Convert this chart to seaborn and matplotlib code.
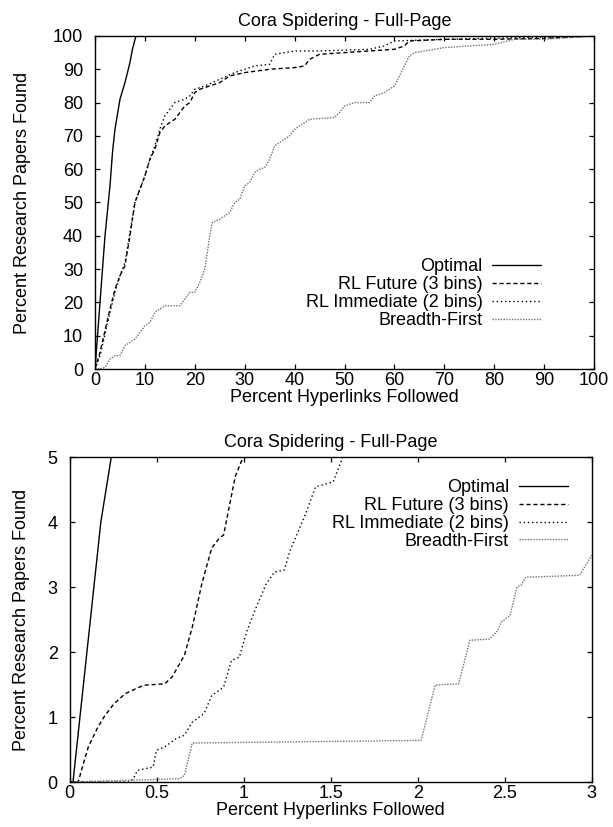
import seaborn as sns
import matplotlib.pyplot as plt
import pandas as pd

# Full range (percent hyperlinks followed vs percent papers found)
opt_x = [0, 1, 2, 3, 3.5, 4, 5, 6, 7, 7.5, 8.2, 100]
opt_y = [0, 20, 40, 55, 65, 72, 81, 86, 92, 96, 100, 100]

fut_x = [0, 1, 3, 4, 5, 6, 7, 8, 9, 10, 11, 12, 13, 14, 16, 17, 18, 19, 20, 21, 23, 25, 27, 30, 35,
         40, 42, 43, 45, 50, 55, 60, 62, 63, 70, 80, 90, 100]
fut_y = [0, 5, 18, 24, 28, 31, 40, 50, 54, 58, 63, 66, 71, 73, 75, 77, 79, 80, 83, 84, 85, 86, 88, 89, 90,
         90.5, 91, 93, 94.5, 95, 95.5, 96, 97, 98.5, 99, 99, 99.3, 100]

imm_x = [0, 1, 3, 4, 5, 6, 7, 8, 9, 10, 11, 12, 13, 14, 15, 16, 18, 19, 20, 22, 25, 28, 30, 32, 35,
         36, 40, 45, 55, 58, 60, 70, 100]
imm_y = [0, 4, 17, 23, 28, 32, 41, 50, 54, 58, 63, 67, 72, 76, 78, 80, 81, 82, 84, 85, 87, 89, 90, 91, 91.5,
         94.5, 95.5, 95.5, 96, 97, 98.5, 99, 100]

bf_x = [0, 1, 2, 3, 4, 5, 6, 7, 8, 9, 10, 11, 12, 13, 14, 17, 18, 19, 20, 21, 22, 23, 23.5, 25, 27,
        28, 29, 30, 31, 32, 33, 34, 35, 36, 37, 39, 40, 41, 42, 43, 48, 49, 50, 52, 55, 56, 58, 59,
        60, 61, 62, 63, 64, 66, 70, 75, 80, 84, 90, 100]
bf_y = [0, 0, 0.5, 3, 4, 4, 7, 8, 9, 11, 13, 14, 17, 18, 19, 19, 21, 23, 23, 26, 30, 40, 44, 45, 47,
        50, 51, 55, 56, 59, 60, 60.5, 63, 67, 68, 70, 72, 73, 74, 75, 75.5, 77, 79, 80, 80, 82, 83, 84,
        85, 88, 91, 94, 95, 95.5, 96.5, 97, 97.5, 99, 99, 100]

# Zoomed range (first 3 percent of hyperlinks)
zopt_x = [0, 0.02, 0.06, 0.10, 0.14, 0.18, 0.21, 0.24]
zopt_y = [0, 0, 1, 2, 3, 4, 4.5, 5]

zfut_x = [0, 0.05, 0.074, 0.108, 0.164, 0.198, 0.254, 0.32, 0.41, 0.43, 0.547, 0.59, 0.66, 0.705,
          0.76, 0.817, 0.86, 0.885, 0.952, 0.997]
zfut_y = [0, 0, 0.23, 0.54, 0.85, 1.0, 1.2, 1.36, 1.47, 1.49, 1.51, 1.62, 1.95, 2.38,
          3.05, 3.6, 3.75, 3.8, 4.7, 5]

zimm_x = [0, 0.344, 0.367, 0.39, 0.48, 0.50, 0.547, 0.614, 0.66, 0.705, 0.772, 0.817, 0.885, 0.93,
          0.975, 1.02, 1.065, 1.13, 1.177, 1.233, 1.267, 1.357, 1.413, 1.515, 1.57]
zimm_y = [0, 0, 0.05, 0.18, 0.23, 0.49, 0.54, 0.67, 0.72, 0.92, 1.05, 1.33, 1.46, 1.87,
          1.92, 2.33, 2.64, 3.05, 3.23, 3.26, 3.56, 4.13, 4.54, 4.62, 5]

zbf_x = [0, 0.63, 0.66, 0.705, 2.02, 2.1, 2.235, 2.30, 2.415, 2.46, 2.48, 2.53, 2.57, 2.595, 2.62,
         2.93, 3.0]
zbf_y = [0, 0.05, 0.1, 0.6, 0.64, 1.49, 1.51, 2.18, 2.2, 2.33, 2.46, 2.56, 3.0, 3.03, 3.15,
         3.18, 3.49]

labels = ['Optimal', 'RL Future (3 bins)', 'RL Immediate (2 bins)', 'Breadth-First']
styles = [('black', '-'), ('black', (0, (3, 2))), ('black', (0, (1, 2))), ('#707070', (0, (1, 1)))]

FS = 13

sns.set_theme(style='ticks')
plt.rcParams['font.family'] = ['Liberation Sans', 'DejaVu Sans']
plt.rcParams['text.color'] = 'black'
plt.rcParams['axes.labelcolor'] = 'black'
plt.rcParams['xtick.color'] = 'black'
plt.rcParams['ytick.color'] = 'black'
plt.rcParams['xtick.direction'] = 'in'
plt.rcParams['ytick.direction'] = 'in'
plt.rcParams['xtick.top'] = True
plt.rcParams['ytick.right'] = True

fig = plt.figure(figsize=(6.13, 8.27), dpi=100)
ax1 = fig.add_axes([0.155, 0.5538, 0.814, 0.4027])
ax2 = fig.add_axes([0.1134, 0.0544, 0.852, 0.393])


def draw(ax, series):
    for (xs, ys), label, (c, ls) in zip(series, labels, styles):
        df = pd.DataFrame({'x': xs, 'y': ys})
        sns.lineplot(data=df, x='x', y='y', ax=ax, estimator=None, sort=False,
                     color=c, linestyle=ls, linewidth=1.0, label=label)
    ax.set_title('Cora Spidering - Full-Page', fontsize=FS, pad=7)
    ax.set_xlabel('Percent Hyperlinks Followed', fontsize=FS, labelpad=0)
    ax.set_ylabel('Percent Research Papers Found', fontsize=FS)
    ax.tick_params(labelsize=FS, length=3.4, width=0.9, color='black')
    ax.tick_params(axis='x', pad=2.5)
    ax.tick_params(axis='y', pad=8.5)
    for s in ax.spines.values():
        s.set_linewidth(1.0)
        s.set_color('black')


draw(ax1, [(opt_x, opt_y), (fut_x, fut_y), (imm_x, imm_y), (bf_x, bf_y)])
ax1.set_xlim(0, 100)
ax1.set_ylim(0, 100)
ax1.set_xticks(range(0, 101, 10))
ax1.set_yticks(range(0, 101, 10))
ax1.yaxis.set_label_coords(-0.128, 0.5)
ax1.legend(loc='lower right', bbox_to_anchor=(0.894, 0.12), frameon=False, markerfirst=False,
           fontsize=FS, handlelength=2.7, handletextpad=0.55, labelspacing=0.05,
           borderpad=0, borderaxespad=0)

draw(ax2, [(zopt_x, zopt_y), (zfut_x, zfut_y), (zimm_x, zimm_y), (zbf_x, zbf_y)])
ax2.set_xlim(0, 3)
ax2.set_ylim(0, 5)
ax2.set_xticks([0, 0.5, 1, 1.5, 2, 2.5, 3])
ax2.set_xticklabels(['0', '0.5', '1', '1.5', '2', '2.5', '3'])
ax2.set_yticks(range(0, 6))
ax2.yaxis.set_label_coords(-0.075, 0.5)
ax2.legend(loc='upper right', bbox_to_anchor=(0.954, 0.932), frameon=False, markerfirst=False,
           fontsize=FS, handlelength=2.7, handletextpad=0.55, labelspacing=0.05,
           borderpad=0, borderaxespad=0)

fig.savefig('out.png', dpi=100)
